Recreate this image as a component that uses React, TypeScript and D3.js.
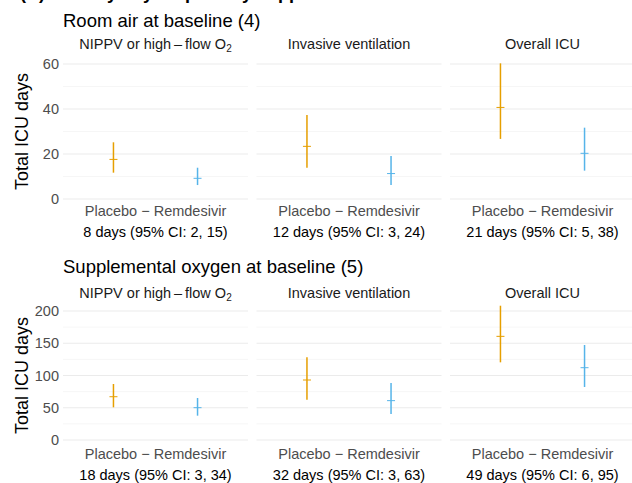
import React from 'react';
import * as d3 from 'd3';

// data
const arms = ['Placebo', 'Remdesivir'];
const facets = ['NIPPV', 'Invasive ventilation', 'Overall ICU'];
const groupTitles = ['Room air at baseline (4)', 'Supplemental oxygen at baseline (5)'];

const roomEst = [[17.6, 9.2], [23.4, 11.3], [40.7, 20.3]];
const roomLo = [[11.7, 6.2], [13.9, 6.2], [26.7, 12.6]];
const roomHi = [[25.2, 13.9], [37.3, 19.1], [60.3, 31.7]];
const roomTicks = [0, 20, 40, 60];
const roomMinor = [10, 30, 50];
const roomDiff = ['8 days (95% CI: 2, 15)', '12 days (95% CI: 3, 24)', '21 days (95% CI: 5, 38)'];

const suppEst = [[67.1, 50.1], [93, 61], [160.7, 112.1]];
const suppLo = [[50.7, 37.7], [62.5, 40.3], [120.4, 82.2]];
const suppHi = [[86.8, 65.1], [128.2, 88.4], [208.2, 147.3]];
const suppTicks = [0, 50, 100, 150, 200];
const suppMinor = [25, 75, 125, 175];
const suppDiff = ['18 days (95% CI: 3, 34)', '32 days (95% CI: 3, 63)', '49 days (95% CI: 6, 95)'];

const colors = ['#E69F00', '#56B4E9'];
const font = 'Liberation Sans, Arial, Helvetica, sans-serif';

const panelLeft = [63, 256.5, 450];
const panelW = 185;

function StripLabel({ name, x, y }) {
  if (name === 'NIPPV') {
    return (
      <text x={x} y={y} textAnchor="middle" fontSize={14.5} fill="#1a1a1a">
        NIPPV or high{'\u2009–\u2009'}flow O
        <tspan fontSize={10} dy={3}>2</tspan>
      </text>
    );
  }
  return (
    <text x={x} y={y} textAnchor="middle" fontSize={14.5} fill="#1a1a1a">{name}</text>
  );
}

function Row({ title, titleY, stripY, yMax, yTop, yZero, ticks, minor, est, lo, hi, diff, xlabY, diffY }) {
  const y = d3.scaleLinear().domain([0, yMax]).range([yZero, yTop]);
  return (
    <g>
      <text x={63} y={titleY} fontSize={18.5} fill="#000">{title}</text>
      <text
        transform={`translate(28,${(yTop + yZero) / 2}) rotate(-90)`}
        textAnchor="middle" fontSize={18} fill="#000"
      >Total ICU days</text>
      {ticks.map(t => (
        <text key={t} x={59} y={y(t)} dy="0.35em" textAnchor="end" fontSize={14.5} fill="#4D4D4D">{t}</text>
      ))}
      {facets.map((f, i) => {
        const x = d3.scalePoint().domain(arms).range([panelLeft[i], panelLeft[i] + panelW]).padding(0.6);
        const cx = panelLeft[i] + panelW / 2;
        return (
          <g key={f}>
            <StripLabel name={f} x={cx} y={stripY} />
            {minor.map(t => (
              <line key={'m' + t} x1={panelLeft[i]} x2={panelLeft[i] + panelW} y1={y(t)} y2={y(t)} stroke="#F2F2F2" strokeWidth={0.7} />
            ))}
            {ticks.map(t => (
              <line key={'t' + t} x1={panelLeft[i]} x2={panelLeft[i] + panelW} y1={y(t)} y2={y(t)} stroke="#EBEBEB" strokeWidth={1} />
            ))}
            {arms.map((a, j) => (
              <g key={a} stroke={colors[j]}>
                <line x1={x(a)} x2={x(a)} y1={y(lo[i][j])} y2={y(hi[i][j])} strokeWidth={1.5} />
                <line x1={x(a) - 4} x2={x(a) + 4} y1={y(est[i][j])} y2={y(est[i][j])} strokeWidth={1} />
              </g>
            ))}
            <text x={cx} y={xlabY} textAnchor="middle" fontSize={14.5} fill="#4D4D4D">Placebo − Remdesivir</text>
            <text x={cx} y={diffY} textAnchor="middle" fontSize={14.5} fill="#000">{diff[i]}</text>
          </g>
        );
      })}
    </g>
  );
}

export default function App() {
  return (
    <svg width={632} height={483} style={{ position: 'absolute', left: 0, top: 0, background: '#fff' }} fontFamily={font}>
      <rect width={632} height={483} fill="#fff" />
      <text x={20} y={-1} fontSize={18} fontWeight="bold" fill="#000">(A) ICU days by respiratory support</text>
      <Row
        title={groupTitles[0]} titleY={27} stripY={49}
        yMax={60} yTop={64} yZero={199}
        ticks={roomTicks} minor={roomMinor}
        est={roomEst} lo={roomLo} hi={roomHi} diff={roomDiff}
        xlabY={216} diffY={237}
      />
      <Row
        title={groupTitles[1]} titleY={273} stripY={298}
        yMax={200} yTop={311} yZero={440}
        ticks={suppTicks} minor={suppMinor}
        est={suppEst} lo={suppLo} hi={suppHi} diff={suppDiff}
        xlabY={459} diffY={480}
      />
    </svg>
  );
}
